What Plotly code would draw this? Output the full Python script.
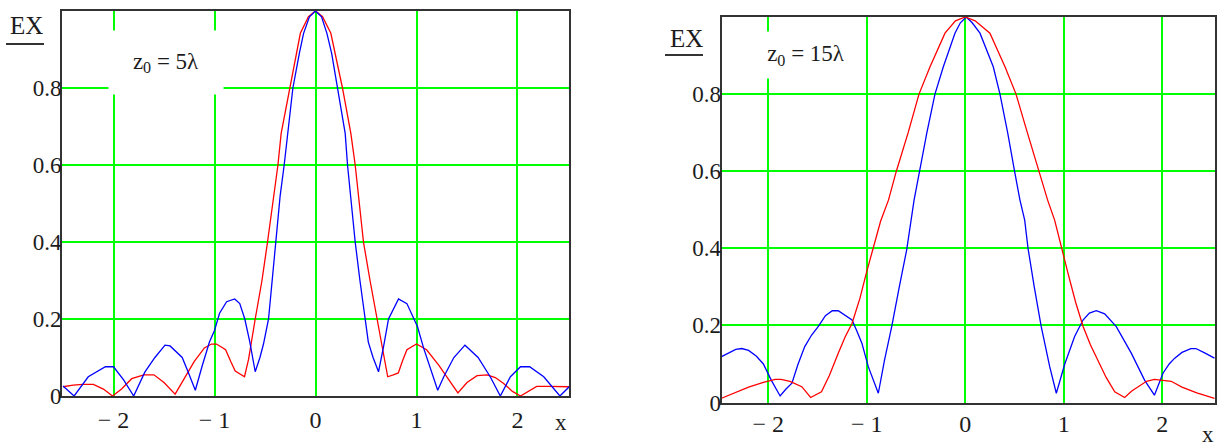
import plotly.graph_objects as go

# ---------------- data ----------------
# Left panel (z0 = 5 lambda)
L_blue_x = [-2.50, -2.39, -2.25, -2.08, -2.00, -1.90, -1.80, -1.69, -1.59, -1.49, -1.44, -1.32, -1.26, -1.19,
            -1.12, -1.05, -1.00, -0.95, -0.88, -0.80, -0.75, -0.70, -0.65, -0.597, -0.55, -0.515, -0.465,
            -0.43, -0.40, -0.35, -0.31, -0.277, -0.224, -0.16, -0.118, -0.06, 0.0, 0.06, 0.113, 0.16, 0.218,
            0.294, 0.317, 0.355, 0.393, 0.44, 0.49, 0.523, 0.57, 0.624, 0.673, 0.723, 0.822, 0.905, 1.01,
            1.07, 1.21, 1.27, 1.37, 1.48, 1.61, 1.73, 1.83, 1.93, 2.03, 2.12, 2.26, 2.42, 2.52]
L_blue_y = [0.026, 0.0, 0.05, 0.076, 0.076, 0.042, 0.0, 0.062, 0.10, 0.132, 0.13, 0.10, 0.062, 0.015,
            0.08, 0.14, 0.17, 0.215, 0.245, 0.252, 0.24, 0.20, 0.14, 0.063, 0.10, 0.135, 0.20,
            0.30, 0.397, 0.52, 0.60, 0.682, 0.80, 0.89, 0.942, 0.985, 1.0, 0.985, 0.942, 0.89, 0.80,
            0.682, 0.60, 0.50, 0.40, 0.30, 0.20, 0.14, 0.10, 0.063, 0.127, 0.20, 0.252, 0.24, 0.18,
            0.125, 0.015, 0.05, 0.10, 0.132, 0.10, 0.05, 0.0, 0.05, 0.076, 0.076, 0.05, 0.0, 0.026]

L_red_x = [-2.50, -2.40, -2.30, -2.20, -2.10, -2.01, -1.92, -1.82, -1.70, -1.60, -1.50, -1.39, -1.30, -1.20,
           -1.10, -1.03, -0.98, -0.89, -0.84, -0.795, -0.703, -0.663, -0.597, -0.53, -0.475, -0.423, -0.372,
           -0.34, -0.257, -0.15, -0.07, 0.0, 0.07, 0.152, 0.267, 0.35, 0.393, 0.434, 0.475, 0.54, 0.61,
           0.66, 0.715, 0.77, 0.82, 0.86, 0.905, 1.00, 1.10, 1.22, 1.32, 1.41, 1.50, 1.60, 1.70, 1.78,
           1.86, 1.95, 2.03, 2.12, 2.19, 2.30, 2.40, 2.52]
L_red_y = [0.024, 0.028, 0.030, 0.030, 0.018, 0.0, 0.018, 0.045, 0.055, 0.055, 0.035, 0.005, 0.045, 0.09,
           0.125, 0.135, 0.135, 0.12, 0.09, 0.065, 0.05, 0.095, 0.20, 0.30, 0.40, 0.50, 0.60,
           0.682, 0.80, 0.942, 0.985, 1.0, 0.985, 0.942, 0.80, 0.682, 0.60, 0.50, 0.40, 0.30, 0.20,
           0.12, 0.05, 0.055, 0.06, 0.09, 0.12, 0.135, 0.12, 0.08, 0.042, 0.008, 0.035, 0.053, 0.055, 0.048,
           0.033, 0.012, 0.0, 0.015, 0.025, 0.025, 0.025, 0.024]

# Right panel (z0 = 15 lambda)
R_blue_x = [-2.475, -2.40, -2.33, -2.27, -2.20, -2.12, -2.05, -1.97, -1.88, -1.82, -1.76, -1.70, -1.63,
            -1.56, -1.49, -1.42, -1.35, -1.29, -1.22, -1.15, -1.10, -1.05, -0.985, -0.883, -0.82, -0.747,
            -0.67, -0.595, -0.52, -0.467, -0.39, -0.308, -0.223, -0.105, -0.05, 0.01, 0.07, 0.149, 0.284,
            0.352, 0.43, 0.50, 0.555, 0.603, 0.637, 0.70, 0.77, 0.857, 0.924, 1.01, 1.11, 1.195, 1.26,
            1.33, 1.415, 1.533, 1.61, 1.685, 1.82, 1.92, 2.007, 2.07, 2.126, 2.20, 2.29, 2.34, 2.42, 2.53]
R_blue_y = [0.119, 0.13, 0.138, 0.14, 0.135, 0.12, 0.10, 0.058, 0.017, 0.035, 0.05, 0.098, 0.145,
            0.175, 0.198, 0.225, 0.238, 0.238, 0.225, 0.214, 0.185, 0.154, 0.093, 0.024, 0.11, 0.197,
            0.30, 0.396, 0.525, 0.60, 0.70, 0.80, 0.871, 0.958, 0.985, 1.0, 0.985, 0.958, 0.871,
            0.80, 0.70, 0.60, 0.525, 0.473, 0.40, 0.30, 0.198, 0.093, 0.024, 0.10, 0.171, 0.214, 0.232,
            0.238, 0.23, 0.197, 0.16, 0.128, 0.058, 0.019, 0.076, 0.10, 0.115, 0.13, 0.14, 0.14, 0.13, 0.115]

R_red_x = [-2.475, -2.35, -2.20, -2.05, -1.93, -1.87, -1.78, -1.66, -1.57, -1.46, -1.38, -1.29, -1.22,
           -1.15, -1.07, -1.00, -0.935, -0.86, -0.78, -0.70, -0.58, -0.47, -0.358, -0.206, -0.10, 0.0,
           0.10, 0.25, 0.403, 0.515, 0.63, 0.748, 0.836, 0.907, 0.975, 1.043, 1.12, 1.195, 1.27, 1.347,
           1.43, 1.517, 1.618, 1.69, 1.753, 1.84, 1.92, 2.00, 2.09, 2.20, 2.35, 2.53]
R_red_y = [0.011, 0.025, 0.04, 0.052, 0.06, 0.06, 0.055, 0.041, 0.013, 0.028, 0.07, 0.128, 0.17,
           0.205, 0.27, 0.34, 0.40, 0.47, 0.525, 0.60, 0.70, 0.80, 0.871, 0.958, 0.99, 1.0,
           0.99, 0.958, 0.871, 0.80, 0.70, 0.60, 0.525, 0.473, 0.40, 0.335, 0.26, 0.198, 0.15, 0.11,
           0.065, 0.028, 0.013, 0.03, 0.041, 0.055, 0.06, 0.058, 0.055, 0.04, 0.025, 0.011]

x_tickvals = [-2, -1, 0, 1, 2]
x_ticktext = ["\u2212 2", "\u2212 1", "0", "1", "2"]
y_tickvals = [0, 0.2, 0.4, 0.6, 0.8]
y_ticktext = ["0", "0.2", "0.4", "0.6", "0.8"]
panel_labels = ["z<sub>0</sub> = 5\u03bb", "z<sub>0</sub> = 15\u03bb"]
ylabel = "EX"
xlabel = "x"

# ---------------- figure ----------------
W, H = 1218, 446
FONT = "Liberation Serif, Times New Roman, serif"
TXT = "#1c1c1c"
GRID = "#00ff00"
BORDER = "#333333"


def px(x):
    return x / W


def py(y):
    return 1 - y / H


fig = go.Figure()
fig.add_trace(go.Scatter(x=L_red_x, y=L_red_y, mode="lines", line=dict(color="#ff0000", width=1.3),
                         xaxis="x", yaxis="y", showlegend=False, hoverinfo="skip"))
fig.add_trace(go.Scatter(x=L_blue_x, y=L_blue_y, mode="lines", line=dict(color="#0000ff", width=1.3),
                         xaxis="x", yaxis="y", showlegend=False, hoverinfo="skip"))
fig.add_trace(go.Scatter(x=R_blue_x, y=R_blue_y, mode="lines", line=dict(color="#0000ff", width=1.3),
                         xaxis="x2", yaxis="y2", showlegend=False, hoverinfo="skip"))
fig.add_trace(go.Scatter(x=R_red_x, y=R_red_y, mode="lines", line=dict(color="#ff0000", width=1.3),
                         xaxis="x2", yaxis="y2", showlegend=False, hoverinfo="skip"))

xcommon = dict(tickmode="array", tickvals=x_tickvals, ticktext=x_ticktext, showgrid=True,
               gridcolor=GRID, gridwidth=1.6, zeroline=False, showline=True, mirror=True,
               linecolor=BORDER, linewidth=2, ticks="", automargin=False,
               tickfont=dict(family=FONT, size=24, color=TXT))
ycommon = dict(tickmode="array", tickvals=y_tickvals, ticktext=y_ticktext, showgrid=True,
               gridcolor=GRID, gridwidth=1.6, zeroline=False, showline=True, mirror=True,
               linecolor=BORDER, linewidth=2, ticks="", automargin=False, range=[0, 1],
               tickfont=dict(family=FONT, size=23, color=TXT), ticklabelstandoff=-6)

fig.update_layout(
    width=W, height=H, autosize=False,
    margin=dict(l=0, r=0, t=0, b=0),
    paper_bgcolor="white", plot_bgcolor="white",
    xaxis=dict(xcommon, domain=[px(62), px(569)], range=[-2.51, 2.51], anchor="y", ticklabelstandoff=1),
    yaxis=dict(ycommon, domain=[py(396), py(11)], anchor="x"),
    xaxis2=dict(xcommon, domain=[px(721.5), px(1215)], range=[-2.475, 2.535], anchor="y2",
                ticklabelstandoff=-1),
    yaxis2=dict(ycommon, domain=[py(402.5), py(17)], anchor="x2"),
)

annotations = []
shapes = []
# panel labels with white boxes hiding the grid
for (cx, cy, bw, bh), lab in zip([(166, 62.5, 112, 61), (806, 55, 108, 44)], panel_labels):
    annotations.append(dict(x=px(cx), y=py(cy), xref="paper", yref="paper", text=lab, showarrow=False,
                            xanchor="center", yanchor="middle", width=bw, height=bh, bgcolor="white",
                            font=dict(family=FONT, size=23, color=TXT)))
# EX labels with bar
for cx, cy, ux0, ux1, uy in [(26, 26, 6, 44, 44), (686, 38, 665, 703, 55)]:
    annotations.append(dict(x=px(cx), y=py(cy), xref="paper", yref="paper", text=ylabel, showarrow=False,
                            xanchor="center", yanchor="middle", font=dict(family=FONT, size=25, color=TXT)))
    shapes.append(dict(type="line", xref="paper", yref="paper", x0=px(ux0), x1=px(ux1), y0=py(uy), y1=py(uy),
                       line=dict(color=BORDER, width=2)))
# x labels
for cx, cy in [(561, 422), (1208, 434)]:
    annotations.append(dict(x=px(cx), y=py(cy), xref="paper", yref="paper", text=xlabel, showarrow=False,
                            xanchor="center", yanchor="middle", font=dict(family=FONT, size=23, color=TXT)))

fig.update_layout(annotations=annotations, shapes=shapes)
fig.write_html("out.html", config={"displayModeBar": False},
               post_script="document.body.style.margin='0px';document.body.style.overflow='hidden';")
